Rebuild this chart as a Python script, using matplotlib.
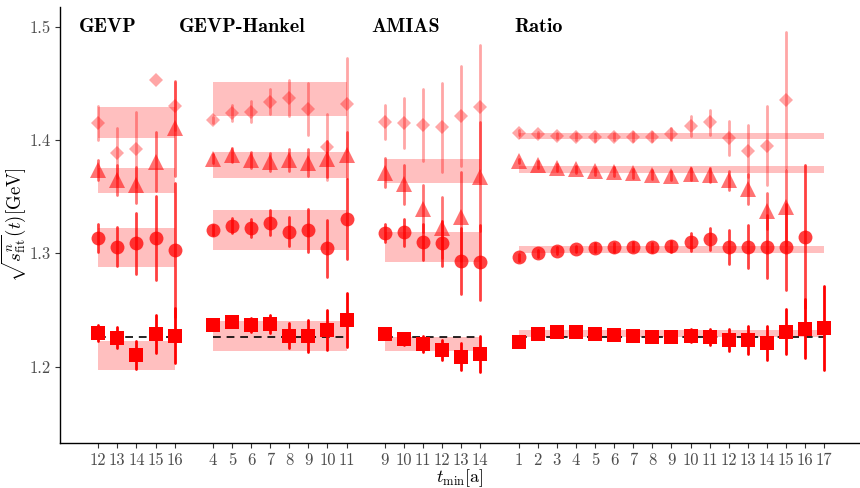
import matplotlib
matplotlib.use("Agg")
import matplotlib.pyplot as plt

plt.rcParams['mathtext.fontset'] = 'cm'
plt.rcParams['axes.unicode_minus'] = False

# reference value (dashed line)
ref_val = 1.2265

# ---- GEVP ----
gevp_t = [12, 13, 14, 15, 16]
gevp_n0 = [1.2294, 1.2256, 1.2103, 1.2289, 1.2274]
gevp_n0_err = [0.007, 0.009, 0.012, 0.017, 0.024]
gevp_n1 = [1.3133, 1.3059, 1.3089, 1.3133, 1.3030]
gevp_n1_err = [0.0125, 0.0175, 0.027, 0.037, 0.059]
gevp_n2 = [1.3736, 1.3647, 1.3603, 1.3809, 1.4103]
gevp_n2_err = [0.009, 0.013, 0.016, 0.026, 0.042]
gevp_n3 = [1.4148, 1.3888, 1.3918, 1.4530, 1.4300]
gevp_n3_err = [0.015, 0.022, 0.033, 0.0, 0.021]
gevp_band = [1.2100, 1.3052, 1.3643, 1.4152]
gevp_band_err = [0.013, 0.017, 0.0108, 0.0137]

# ---- GEVP-Hankel ----
hank_t = [4, 5, 6, 7, 8, 9, 10, 11]
hank_n0 = [1.2368, 1.2397, 1.2368, 1.2377, 1.2274, 1.2270, 1.2324, 1.2412]
hank_n0_err = [0.004, 0.005, 0.006, 0.008, 0.011, 0.014, 0.018, 0.024]
hank_n1 = [1.3206, 1.3244, 1.3221, 1.3271, 1.3191, 1.3203, 1.3045, 1.3303]
hank_n1_err = [0.004, 0.0066, 0.008, 0.011, 0.013, 0.019, 0.025, 0.035]
hank_n2 = [1.3835, 1.3865, 1.3827, 1.3806, 1.3824, 1.3800, 1.3830, 1.3868]
hank_n2_err = [0.004, 0.006, 0.007, 0.008, 0.010, 0.012, 0.016, 0.020]
hank_n3 = [1.4177, 1.4241, 1.4250, 1.4338, 1.4368, 1.4271, 1.3935, 1.4315]
hank_n3_err = [0.003, 0.007, 0.009, 0.011, 0.016, 0.023, 0.029, 0.041]
hank_band = [1.2273, 1.3206, 1.3780, 1.4364]
hank_band_err = [0.0132, 0.0176, 0.0112, 0.0151]

# ---- AMIAS ----
amias_t = [9, 10, 11, 12, 13, 14]
amias_n0 = [1.2289, 1.2244, 1.2200, 1.2147, 1.2088, 1.2112]
amias_n0_err = [0.004, 0.005, 0.007, 0.009, 0.012, 0.016]
amias_n1 = [1.3182, 1.3185, 1.3097, 1.3088, 1.2935, 1.2921]
amias_n1_err = [0.008, 0.012, 0.016, 0.020, 0.029, 0.033]
amias_n2 = [1.3711, 1.3608, 1.3394, 1.3225, 1.3324, 1.3676]
amias_n2_err = [0.013, 0.017, 0.021, 0.027, 0.039, 0.048]
amias_n3 = [1.4162, 1.4153, 1.4132, 1.4112, 1.4212, 1.4289]
amias_n3_err = [0.015, 0.022, 0.032, 0.039, 0.044, 0.055]
amias_band = [1.2203, 1.3056, 1.3727]
amias_band_err = [0.0062, 0.013, 0.0103]

# ---- Ratio ----
ratio_t = list(range(1, 18))
ratio_n0 = [1.2221, 1.2289, 1.2309, 1.2309, 1.2289, 1.2280, 1.2271, 1.2265, 1.2265,
            1.2274, 1.2265, 1.2235, 1.2235, 1.2212, 1.2309, 1.2333, 1.2344]
ratio_n0_err = [0.002, 0.003, 0.003, 0.003, 0.003, 0.004, 0.004, 0.004, 0.004,
                0.006, 0.007, 0.010, 0.012, 0.015, 0.020, 0.026, 0.037]
ratio_n1 = [1.2965, 1.3000, 1.3024, 1.3039, 1.3050, 1.3053, 1.3059, 1.3053, 1.3062,
            1.3097, 1.3127, 1.3059, 1.3059, 1.3059, 1.3059, 1.3147]
ratio_n1_err = [0.003, 0.003, 0.003, 0.003, 0.004, 0.004, 0.004, 0.004, 0.005,
                0.008, 0.010, 0.015, 0.019, 0.028, 0.038, 0.063]
ratio_n2 = [1.3813, 1.3781, 1.3757, 1.3740, 1.3725, 1.3718, 1.3706, 1.3693, 1.3683,
            1.3699, 1.3690, 1.3643, 1.3566, 1.3372, 1.3405]
ratio_n2_err = [0.002, 0.003, 0.003, 0.003, 0.003, 0.004, 0.004, 0.004, 0.004,
                0.005, 0.006, 0.008, 0.013, 0.016, 0.033]
ratio_n3 = [1.4065, 1.4050, 1.4036, 1.4030, 1.4024, 1.4030, 1.4030, 1.4030, 1.4052,
            1.4124, 1.4156, 1.4021, 1.3906, 1.3950, 1.4353]
ratio_n3_err = [0.002, 0.002, 0.003, 0.003, 0.003, 0.003, 0.004, 0.004, 0.005,
                0.009, 0.011, 0.015, 0.023, 0.035, 0.060]
ratio_band = [1.2291, 1.3033, 1.3741, 1.4035]
ratio_band_err = [0.0032, 0.0032, 0.003, 0.003]

groups = [
    ("GEVP", gevp_t, [gevp_n0, gevp_n1, gevp_n2, gevp_n3],
     [gevp_n0_err, gevp_n1_err, gevp_n2_err, gevp_n3_err], gevp_band, gevp_band_err),
    ("GEVP-Hankel", hank_t, [hank_n0, hank_n1, hank_n2, hank_n3],
     [hank_n0_err, hank_n1_err, hank_n2_err, hank_n3_err], hank_band, hank_band_err),
    ("AMIAS", amias_t, [amias_n0, amias_n1, amias_n2, amias_n3],
     [amias_n0_err, amias_n1_err, amias_n2_err, amias_n3_err], amias_band, amias_band_err),
    ("Ratio", ratio_t, [ratio_n0, ratio_n1, ratio_n2, ratio_n3],
     [ratio_n0_err, ratio_n1_err, ratio_n2_err, ratio_n3_err], ratio_band, ratio_band_err),
]

markers = ['s', 'o', '^', 'D']
msizes = [10, 10, 11.7, 6.8]
alphas = [1.0, 0.75, 0.55, 0.35]
# left edge of each group title, relative to the group's first slot
title_shift = [-1.0, -1.78, -0.73, -0.24]

fig = plt.figure(figsize=(8.6, 4.88), dpi=100)
ax = fig.add_axes([60 / 860, 1 - 443.3 / 488, 800 / 860, (443.3 - 6.7) / 488])

tick_pos = []
tick_lab = []
offset = 0
for gi, (name, ts, series, errs, band, band_err) in enumerate(groups):
    pos = [offset + (t - ts[0]) for t in ts]
    tick_pos += pos
    tick_lab += [str(t) for t in ts]
    x0, x1 = pos[0], pos[-1]
    # bands
    for b, be in zip(band, band_err):
        ax.fill_between([x0, x1], b - be, b + be, color='red', alpha=0.25,
                        linewidth=0, zorder=1)
    # dashed reference line
    ax.plot([x0, x1], [ref_val, ref_val], color='black', lw=1.4,
            linestyle=(0, (4, 3)), alpha=0.85, zorder=2)
    # points
    for k in range(4):
        vals = series[k]
        p = pos[:len(vals)]
        eb = ax.errorbar(p, vals, yerr=errs[k], fmt=markers[k], ms=msizes[k],
                         color='red', mew=0, elinewidth=2.0, capsize=0,
                         alpha=alphas[k], zorder=3)
        for c in eb[2]:
            c.set_capstyle('round')
    # group title
    ax.text(x0 + title_shift[gi], 1.5, name, fontfamily='cmb10', fontsize=14.5,
            ha='left', va='center')
    offset = x1 + 2

ax.set_xlim(-2.0, 39.87)
ax.set_ylim(1.1324, 1.5176)
ax.set_xticks(tick_pos)
ax.set_xticklabels(tick_lab, fontfamily='cmr10', fontsize=12, color='#4d4d4d')
ax.set_yticks([1.2, 1.3, 1.4, 1.5])
ax.set_yticklabels(['1.2', '1.3', '1.4', '1.5'], fontfamily='cmr10', fontsize=12,
                   color='#4d4d4d')
ax.tick_params(axis='both', direction='out', length=3.5, width=0.8, color='#333333',
               pad=3)

for side in ['top', 'right']:
    ax.spines[side].set_visible(False)
for side in ['left', 'bottom']:
    ax.spines[side].set_linewidth(1.0)
    ax.spines[side].set_color('black')

ax.set_xlabel(r'$t_{\mathrm{min}}[\mathrm{a}]$', fontsize=13, labelpad=-0.5)
ax.set_ylabel(r'$\sqrt{s^{n}_{\mathrm{fit}}}(t)[\mathrm{GeV}]$', fontsize=13.5,
              labelpad=1)

fig.savefig('out.png', dpi=100)
